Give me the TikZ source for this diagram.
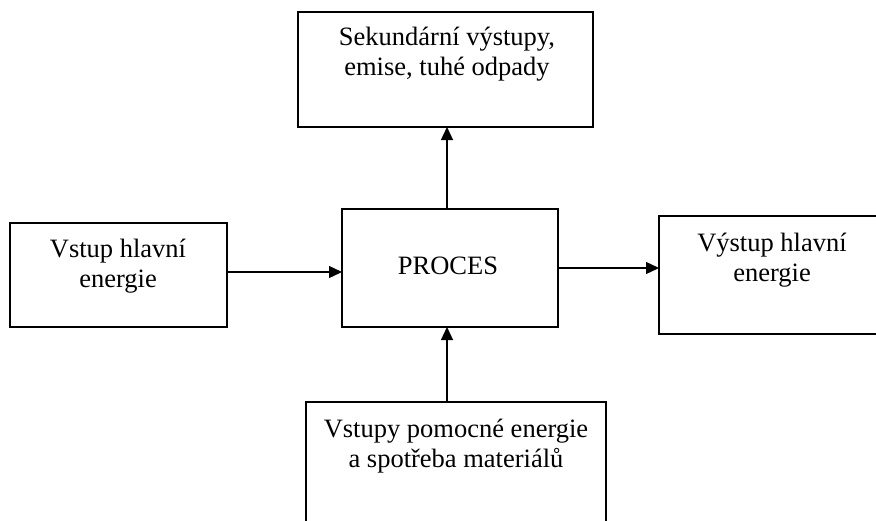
\documentclass[tikz,border=0pt]{standalone}
\usepackage{fontspec}
\setmainfont{Liberation Serif}
\usetikzlibrary{arrows.meta}
\begin{document}
\begin{tikzpicture}[x=1pt,y=-1pt,
  box/.style={draw=black,line width=1.3pt,rectangle,inner sep=0pt,outer sep=0pt,anchor=north west},
  lbl/.style={font=\fontsize{26.5}{30}\selectfont,align=center,inner sep=0pt,anchor=base},
  arr/.style={line width=1.3pt,-{Triangle[length=13pt,width=12pt]}}]
\useasboundingbox (0,0) rectangle (876,520);
\clip (0,0) rectangle (876,520);
\node[box,minimum width=295pt,minimum height=115pt] (top) at (298,12) {};
\node[box,minimum width=217pt,minimum height=104pt] (left) at (10,223) {};
\node[box,minimum width=216pt,minimum height=118pt] (proc) at (342,209) {};
\node[box,minimum width=226pt,minimum height=118pt] (right) at (659,216) {};
\node[box,minimum width=300pt,minimum height=130pt] (bottom) at (306,402) {};
\node[lbl] (ttop) at (447,75) {Sekundární výstupy,\\emise, tuhé odpady};
\node[lbl] (tleft) at (118,287) {Vstup hlavní\\energie};
\node[lbl] (tproc) at (448,274) {PROCES};
\node[lbl] (tright) at (772,281) {Výstup hlavní\\energie};
\node[lbl] (tbottom) at (456,467) {Vstupy pomocné energie\\a spotřeba materiálů};
\draw[arr] (left.east |- 0,272) -- (proc.west |- 0,272);
\draw[arr] (proc.east |- 0,268) -- (right.west |- 0,268);
\draw[arr] (proc.north -| 447,0) -- (top.south -| 447,0);
\draw[arr] (bottom.north -| 447,0) -- (proc.south -| 447,0);
\end{tikzpicture}
\end{document}
